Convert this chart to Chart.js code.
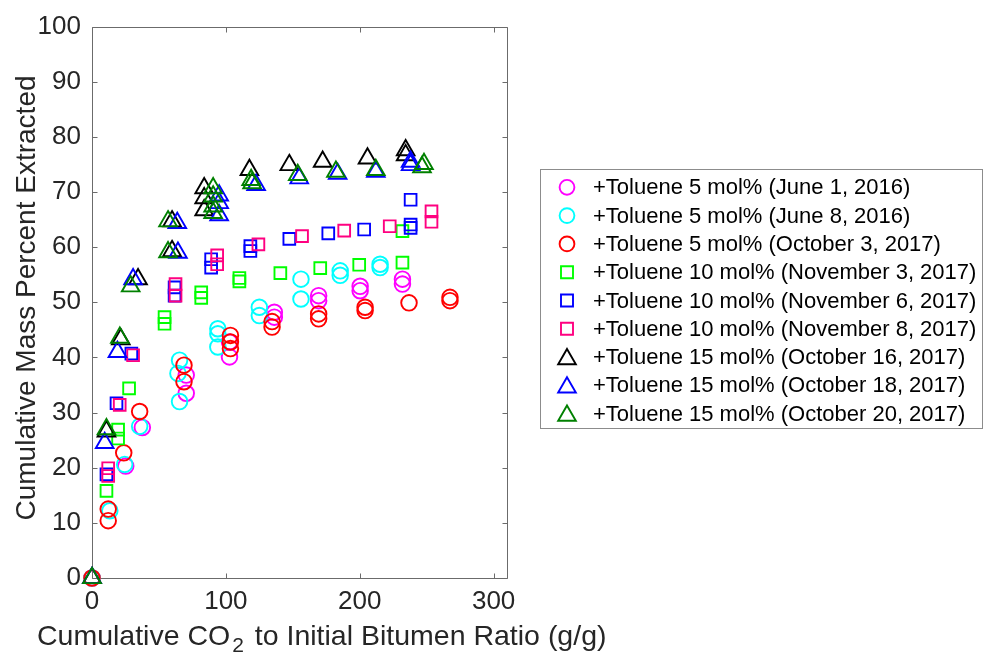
<!DOCTYPE html>
<html>
<head>
<meta charset="utf-8">
<script src="https://cdn.jsdelivr.net/npm/chart.js@4.4.1/dist/chart.umd.min.js"></script>
<style>
  html, body { margin: 0; padding: 0; background: #ffffff; }
  #wrap { position: relative; width: 984px; height: 653px; }
</style>
</head>
<body>
<div id="wrap"><canvas id="c" width="984" height="653"></canvas></div>
<script>
// Axis ticks
const xTicks = [0, 100, 200, 300];
const yTicks = [0, 10, 20, 30, 40, 50, 60, 70, 80, 90, 100];

// Titles
const xTitleMain = 'Cumulative CO';
const xTitleSub = '2';
const xTitleRest = ' to Initial Bitumen Ratio (g/g)';
const yTitle = 'Cumulative Mass Percent Extracted';

// Series labels (legend order)
const seriesLabels = [
  '+Toluene 5 mol% (June 1, 2016)',
  '+Toluene 5 mol% (June 8, 2016)',
  '+Toluene 5 mol% (October 3, 2017)',
  '+Toluene 10 mol% (November 3, 2017)',
  '+Toluene 10 mol% (November 6, 2017)',
  '+Toluene 10 mol% (November 8, 2017)',
  '+Toluene 15 mol% (October 16, 2017)',
  '+Toluene 15 mol% (October 18, 2017)',
  '+Toluene 15 mol% (October 20, 2017)'
];

// [cumulative CO2 ratio (g/g), cumulative mass % extracted]
const tol5_jun1 = [[0,0],[25.2,20.3],[37.6,27.3],[70.4,36.8],[70.4,33.5],[102.7,42.8],[102.7,40.1],[136.2,48.2],[136.2,47.3],[169.3,51.2],[169.3,50.3],[200.3,52.9],[200.3,52.1],[231.9,54.2],[231.9,53.3]];
const tol5_jun8 = [[0,0],[13.3,12.2],[24.4,20.6],[35.6,27.5],[65.4,39.5],[64.2,37.1],[65.4,32.0],[94,45.2],[94,44.3],[94,41.9],[125,49.1],[125,47.6],[156.1,54.2],[156.1,50.6],[185.4,55.7],[185.4,54.9],[215.2,56.9],[215.2,56.3]];
const tol5_oct3 = [[0,0],[12.1,12.5],[12.1,10.4],[23.7,22.7],[35.6,30.2],[68.7,38.6],[68.7,35.6],[103.4,44.0],[103.4,42.8],[103.4,41.6],[134.5,46.5],[134.5,45.5],[169.3,47.9],[169.3,47.0],[204,49.1],[204,48.5],[236.8,49.9],[267.4,50.9],[267.4,50.3]];
const tol10_nov3 = [[10.8,15.8],[19.5,26.9],[19.5,25.3],[27.7,34.4],[54.2,47.3],[54.2,46.1],[81.6,51.8],[81.6,50.8],[110.1,54.4],[110.1,53.8],[140.7,55.3],[170.5,56.2],[199.6,56.8],[231.9,57.2],[231.9,62.9]];
const tol10_nov6 = [[10.8,18.8],[18.3,31.7],[29.4,40.7],[61.7,52.7],[61.7,51.2],[89,57.8],[89,56.3],[118.3,60.2],[118.3,59.3],[147.4,61.5],[176.5,62.5],[203.3,63.2],[238,64.1],[238,63.5],[238,68.6]];
const tol10_nov8 = [[12.1,19.9],[12.1,18.5],[20.7,31.4],[30.7,40.4],[62.4,53.3],[62.4,51.2],[93.5,58.5],[93.5,56.9],[124.3,60.5],[156.9,62.0],[188.4,63.0],[222.4,63.8],[253.6,66.5],[253.6,64.6]];
const tol15_oct16 = [[0,0],[10.8,26.6],[21.5,43.3],[34.4,54.2],[59.8,64.7],[59.8,59.3],[83.8,70.7],[83.8,68.9],[83.8,66.7],[117.6,74.0],[147.4,74.9],[172.3,75.5],[205.8,76.1],[234.3,77.6],[234.3,76.7]];
const tol15_oct18 = [[0,0],[9.5,24.5],[19,41],[30.7,54.2],[63.7,64.4],[64.2,59],[95,69.4],[95,68],[95,65.8],[122.6,71.3],[154.8,72.5],[183.5,73.3],[212,73.7],[238,75.5],[238,74.9]];
const tol15_oct20 = [[0,0],[10.8,27],[20.8,43.6],[28.9,52.9],[56.8,64.7],[56.8,59.1],[90.5,70.7],[90.5,69.2],[90.5,67.4],[90.5,66.2],[118.9,72.2],[119.6,71.6],[153.7,73.1],[182.2,73.7],[212,74],[248,75.1],[246.5,74.5]];

const seriesData = [tol5_jun1, tol5_jun8, tol5_oct3, tol10_nov3, tol10_nov6, tol10_nov8, tol15_oct16, tol15_oct18, tol15_oct20];
const seriesColors = ['#ff00ff', '#00ffff', '#ff0000', '#00ff00', '#0000ff', '#ff0080', '#000000', '#0000ff', '#008000'];
const seriesShapes = ['circle', 'circle', 'circle', 'rect', 'rect', 'rect', 'triangle', 'triangle', 'triangle'];

const FONT = '"Liberation Sans", Arial, Helvetica, sans-serif';
const TEXT = '#262626';
const MARK_R = { circle: 7.8, rect: 8.3, triangle: 10.2 };
const MARK_W = 1.9;

const datasets = seriesData.map((pts, i) => ({
  label: seriesLabels[i],
  data: pts.map(p => ({ x: p[0], y: p[1] })),
  showLine: false,
  pointStyle: seriesShapes[i],
  pointRadius: MARK_R[seriesShapes[i]],
  pointHoverRadius: MARK_R[seriesShapes[i]],
  pointBorderWidth: MARK_W,
  pointBorderColor: seriesColors[i],
  pointBackgroundColor: 'rgba(0,0,0,0)',
  clip: false,
  order: seriesData.length - i
}));

// Axes box with inward tick marks on all four sides
const framePlugin = {
  id: 'frame',
  beforeDatasetsDraw(chart) {
    const { ctx, chartArea: a, scales: { x, y } } = chart;
    const L = 5;
    ctx.save();
    ctx.strokeStyle = '#6b6b6b';
    ctx.lineWidth = 1;
    const l = Math.round(a.left) + 0.5, r = Math.round(a.right) + 0.5;
    const t = Math.round(a.top) + 0.5, b = Math.round(a.bottom) + 0.5;
    ctx.beginPath();
    ctx.rect(l, t, r - l, b - t);
    xTicks.forEach(v => {
      const px = Math.round(x.getPixelForValue(v)) + 0.5;
      ctx.moveTo(px, b); ctx.lineTo(px, b - L);
      ctx.moveTo(px, t); ctx.lineTo(px, t + L);
    });
    yTicks.forEach(v => {
      const py = Math.round(y.getPixelForValue(v)) + 0.5;
      ctx.moveTo(l, py); ctx.lineTo(l + L, py);
      ctx.moveTo(r, py); ctx.lineTo(r - L, py);
    });
    ctx.stroke();
    ctx.restore();
  }
};

// Axis titles (x title carries a subscript)
const titlePlugin = {
  id: 'axisTitles',
  afterDraw(chart) {
    const { ctx } = chart;
    ctx.save();
    ctx.fillStyle = TEXT;
    ctx.font = '28px ' + FONT;
    ctx.textBaseline = 'middle';
    ctx.textAlign = 'center';
    ctx.translate(27, 298);
    ctx.rotate(-Math.PI / 2);
    ctx.fillText(yTitle, 0, 0);
    ctx.restore();

    ctx.save();
    ctx.fillStyle = TEXT;
    ctx.textBaseline = 'alphabetic';
    ctx.textAlign = 'left';
    const big = '28.5px ' + FONT, small = '21px ' + FONT;
    ctx.font = big;
    const w1 = ctx.measureText(xTitleMain).width;
    ctx.font = small;
    const w2 = ctx.measureText(xTitleSub).width;
    const x0 = 37;
    const base = 645;
    ctx.font = big;
    ctx.fillText(xTitleMain, x0, base);
    ctx.font = small;
    ctx.fillText(xTitleSub, x0 + w1 + 2, base + 7);
    ctx.font = big;
    ctx.fillText(xTitleRest, x0 + w1 + w2 + 5, base);
    ctx.restore();
  }
};

// Boxed legend on the right
const legendPlugin = {
  id: 'boxLegend',
  afterDraw(chart) {
    const { ctx } = chart;
    const box = { left: 540, top: 169, right: 982, bottom: 428 };
    const row0 = 187.3, rowStep = 28.3, mx = 567, tx = 593;
    ctx.save();
    ctx.strokeStyle = '#8c8c8c';
    ctx.lineWidth = 1;
    ctx.strokeRect(box.left + 0.5, box.top + 0.5, box.right - box.left, box.bottom - box.top);
    ctx.font = '22px ' + FONT;
    ctx.textBaseline = 'middle';
    ctx.textAlign = 'left';
    seriesLabels.forEach((lab, i) => {
      const cy = row0 + i * rowStep;
      ctx.strokeStyle = seriesColors[i];
      ctx.lineWidth = MARK_W;
      ctx.beginPath();
      const s = seriesShapes[i];
      if (s === 'circle') {
        ctx.arc(mx, cy, 7.4, 0, Math.PI * 2);
      } else if (s === 'rect') {
        ctx.rect(mx - 6, cy - 6, 12, 12);
      } else {
        const r = 10.2, c = cy + 2;
        ctx.moveTo(mx, c - r);
        ctx.lineTo(mx + r * Math.sin(2 * Math.PI / 3), c - r * Math.cos(2 * Math.PI / 3));
        ctx.lineTo(mx + r * Math.sin(4 * Math.PI / 3), c - r * Math.cos(4 * Math.PI / 3));
        ctx.closePath();
      }
      ctx.stroke();
      ctx.fillStyle = '#000000';
      ctx.fillText(lab, tx, cy + 1);
    });
    ctx.restore();
  }
};

new Chart(document.getElementById('c'), {
  type: 'scatter',
  data: { datasets },
  options: {
    responsive: false,
    animation: false,
    devicePixelRatio: 1,
    layout: { padding: { left: 0, right: 984 - 507, top: 22, bottom: 0 } },
    plugins: { legend: { display: false }, tooltip: { enabled: false } },
    scales: {
      x: {
        type: 'linear', min: 0, max: 310,
        afterBuildTicks: s => { s.ticks = xTicks.map(v => ({ value: v })); },
        afterFit: s => { s.height = 75; },
        grid: { display: false, drawTicks: false }, border: { display: false },
        ticks: { color: TEXT, font: { family: FONT, size: 26 }, padding: 8, maxRotation: 0 }
      },
      y: {
        type: 'linear', min: 0, max: 100,
        afterBuildTicks: s => { s.ticks = yTicks.map(v => ({ value: v })); },
        afterFit: s => { s.width = 92; },
        grid: { display: false, drawTicks: false }, border: { display: false },
        ticks: { color: TEXT, font: { family: FONT, size: 26 }, padding: 11 }
      }
    }
  },
  plugins: [framePlugin, titlePlugin, legendPlugin]
});
</script>
</body>
</html>
